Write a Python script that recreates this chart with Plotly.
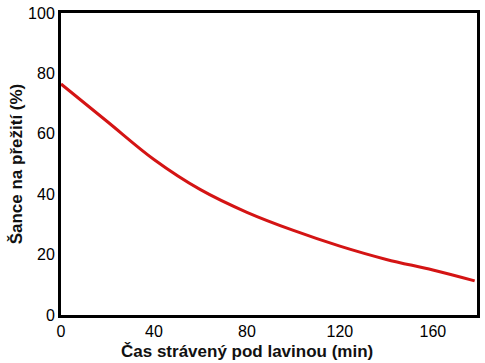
import plotly.graph_objects as go

time_min = [0, 20, 40, 60, 80, 100, 120, 140, 160, 178]
survival_pct = [76.5, 64, 51.5, 41.5, 34, 28, 22.8, 18.4, 14.9, 11.3]

x_ticks = [0, 40, 80, 120, 160]
y_ticks = [0, 20, 40, 60, 80, 100]

fig = go.Figure()
fig.add_trace(go.Scatter(
    x=time_min, y=survival_pct, mode="lines",
    line=dict(color="#d41414", width=3, shape="spline", smoothing=1.0),
    showlegend=False, hoverinfo="skip",
))

font_tick = dict(family="Liberation Sans, Arial, sans-serif", size=16, color="black")
title_font = dict(family="Liberation Sans, Arial, sans-serif", size=17, color="#111")
fig.update_layout(
    width=485, height=363,
    margin=dict(l=61, r=5, t=12, b=48),
    paper_bgcolor="white", plot_bgcolor="white",
    xaxis=dict(range=[0, 179], tickvals=x_ticks, showgrid=False, zeroline=False,
               showline=True, linecolor="black", linewidth=3, mirror=True,
               ticks="", tickfont=font_tick, ticklabelstandoff=0),
    yaxis=dict(range=[0, 100], tickvals=y_ticks, showgrid=False, zeroline=False,
               showline=True, linecolor="black", linewidth=3, mirror=True,
               ticks="", tickfont=font_tick, ticklabelstandoff=0),
    annotations=[
        dict(text="<b>Čas strávený pod lavinou (min)</b>", xref="paper", yref="paper",
             x=(248 - 61) / 419, y=-(352 - 315) / 303, xanchor="center", yanchor="middle",
             showarrow=False, font=title_font),
        dict(text="<b>Šance na přežití (%)</b>", xref="paper", yref="paper",
             x=-(61 - 16) / 419, y=0.5, xanchor="center", yanchor="middle", textangle=-90,
             showarrow=False, font=title_font),
    ],
)

fig.write_html("out.html", config={"displayModeBar": False},
               post_script="document.body.style.margin='0';document.body.style.overflow='hidden';")
